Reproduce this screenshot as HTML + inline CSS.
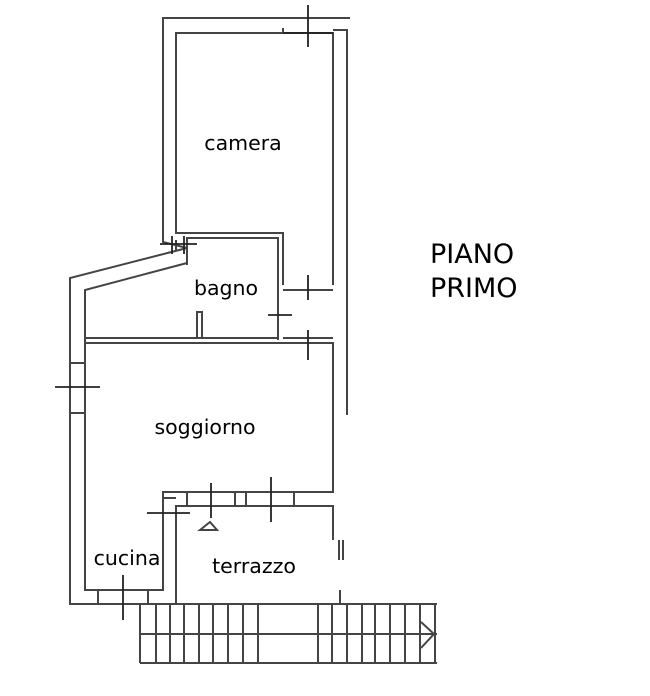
<!DOCTYPE html>
<html><head><style>
html,body{margin:0;padding:0;background:#fff;width:650px;height:696px;overflow:hidden}
svg{position:absolute;left:0;top:0}
text{font-family:"DejaVu Sans","Liberation Sans",sans-serif;fill:#000}
</style></head><body>
<svg width="650" height="696" viewBox="0 0 650 696">
<g fill="none" stroke="#444" stroke-width="2">
<polyline points="350,18 163,18 163,238"/>
<polyline points="333,285 333,33 176,33 176,233 283,233 283,285"/>
<polyline points="187,265 187,238 278,238 278,340"/>
<polyline points="340,30 347,30 347,415"/>
<line x1="333" y1="30" x2="340" y2="30"/>
<polyline points="283,28 283,33"/>
<polyline points="163,238 163,242 187,248 70,278 70,604 175,604"/>
<polyline points="176,240 176,250"/>
<polyline points="187,263 85,290 85,590 163,590 163,492 333,492 333,343 85,343"/>
<line x1="85" y1="338" x2="278" y2="338"/>
<line x1="283" y1="290" x2="333" y2="290"/>
<line x1="283" y1="338" x2="333" y2="338"/>
<rect x="197" y="312" width="5" height="26"/>
<polyline points="176,604 176,506 333,506 333,540"/>
<line x1="176" y1="498" x2="163" y2="498"/>
<rect x="187" y="492" width="48" height="14"/>
<rect x="246" y="492" width="48" height="14"/>
<rect x="70" y="363" width="15" height="50"/>
<rect x="98" y="590" width="50" height="14"/>
<line x1="339" y1="540" x2="339" y2="560"/>
<line x1="343" y1="540" x2="343" y2="560"/>
<line x1="340" y1="590" x2="340" y2="604"/>
<line x1="140" y1="604" x2="437" y2="604"/>
<line x1="140" y1="663" x2="437" y2="663"/>
<line x1="140" y1="634" x2="437" y2="634"/>
<g>
<line x1="140" y1="604" x2="140" y2="663"/><line x1="156" y1="604" x2="156" y2="663"/>
<line x1="170" y1="604" x2="170" y2="663"/><line x1="184" y1="604" x2="184" y2="663"/>
<line x1="199" y1="604" x2="199" y2="663"/><line x1="213" y1="604" x2="213" y2="663"/>
<line x1="228" y1="604" x2="228" y2="663"/><line x1="243" y1="604" x2="243" y2="663"/>
<line x1="258" y1="604" x2="258" y2="663"/><line x1="318" y1="604" x2="318" y2="663"/>
<line x1="332" y1="604" x2="332" y2="663"/><line x1="347" y1="604" x2="347" y2="663"/>
<line x1="362" y1="604" x2="362" y2="663"/><line x1="375" y1="604" x2="375" y2="663"/>
<line x1="390" y1="604" x2="390" y2="663"/><line x1="405" y1="604" x2="405" y2="663"/>
<line x1="420" y1="604" x2="420" y2="663"/><line x1="435" y1="604" x2="435" y2="663"/>
</g>
<polyline points="421,622 434,634 421,648"/>
<polygon points="200,530 210,522 217,530"/>
</g>
<g stroke="#222" stroke-width="1.8">
<line x1="308" y1="5" x2="308" y2="47"/><line x1="283" y1="33" x2="333" y2="33"/>
<line x1="160" y1="244" x2="197" y2="244"/><line x1="172" y1="236" x2="172" y2="254"/><line x1="184" y1="236" x2="184" y2="254"/>
<line x1="308" y1="275" x2="308" y2="300"/>
<line x1="268" y1="315" x2="292" y2="315"/>
<line x1="308" y1="330" x2="308" y2="360"/>
<line x1="55" y1="387" x2="100" y2="387"/>
<line x1="211" y1="483" x2="211" y2="518"/>
<line x1="271" y1="477" x2="271" y2="522"/>
<line x1="147" y1="513" x2="190" y2="513"/>
<line x1="123" y1="575" x2="123" y2="620"/>
</g>
<text x="243" y="150" font-size="20.5" text-anchor="middle">camera</text>
<text x="226" y="295" font-size="20.5" text-anchor="middle">bagno</text>
<text x="205" y="434" font-size="20.5" text-anchor="middle">soggiorno</text>
<text x="127" y="565" font-size="20.5" text-anchor="middle">cucina</text>
<text x="254" y="573" font-size="20.5" text-anchor="middle">terrazzo</text>
<text x="430" y="263" font-size="27">PIANO</text>
<text x="430" y="297" font-size="27">PRIMO</text>
</svg>
</body></html>
